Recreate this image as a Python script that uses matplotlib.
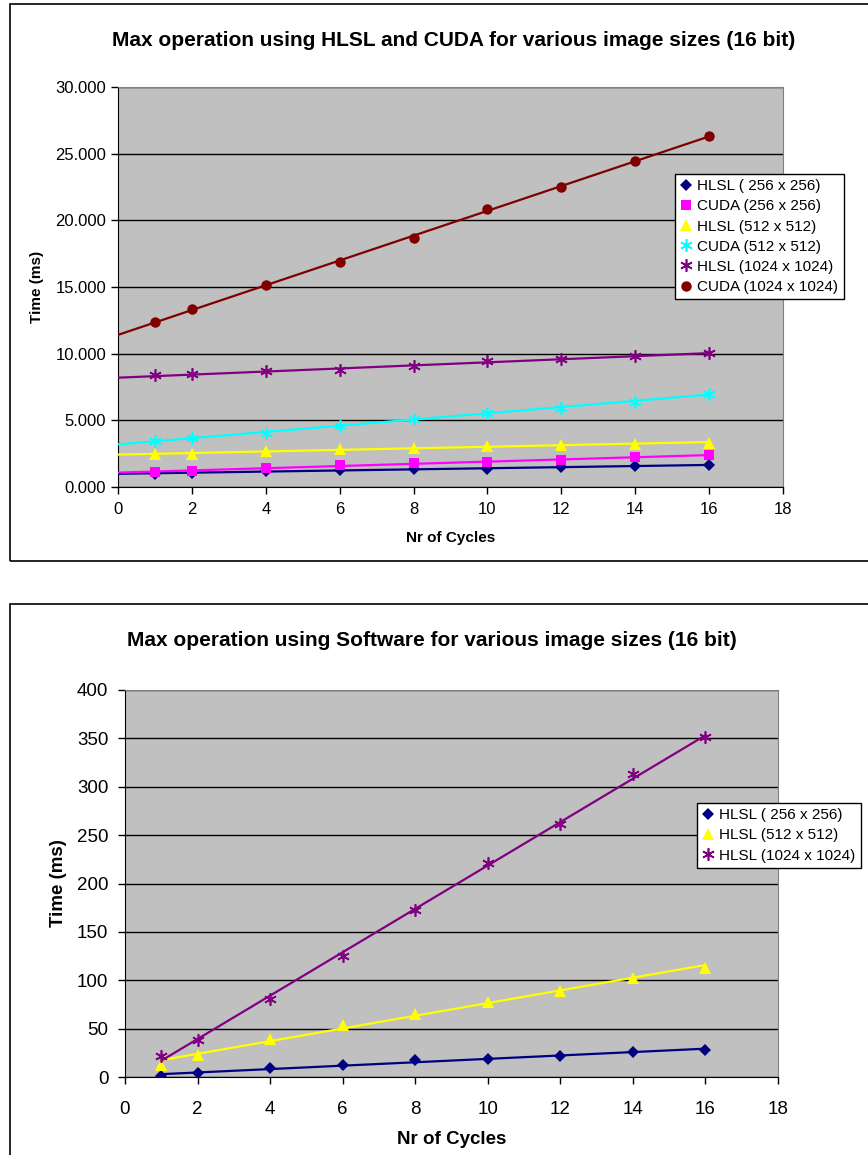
import numpy as np
import matplotlib
matplotlib.use('Agg')
import matplotlib.pyplot as plt
from matplotlib.patches import Rectangle

plt.rcParams['font.family'] = ['Liberation Sans', 'DejaVu Sans']

# top chart: HLSL vs CUDA
cycles_top = [1, 2, 4, 6, 8, 10, 12, 14, 16]
hlsl_256 = [1.00, 1.05, 1.18, 1.30, 1.33, 1.38, 1.50, 1.58, 1.63]
cuda_256 = [1.13, 1.20, 1.43, 1.63, 1.80, 1.90, 2.00, 2.25, 2.38]
hlsl_512 = [2.45, 2.50, 2.68, 2.83, 2.93, 3.08, 3.15, 3.25, 3.30]
cuda_512 = [3.45, 3.68, 4.08, 4.55, 5.13, 5.58, 5.95, 6.38, 7.00]
hlsl_1024 = [8.38, 8.45, 8.68, 8.75, 9.05, 9.43, 9.58, 9.80, 10.08]
cuda_1024 = [12.38, 13.35, 15.12, 16.90, 18.70, 20.85, 22.47, 24.47, 26.35]

# bottom chart: software
cycles_bot = [1, 2, 4, 6, 8, 10, 12, 14, 16]
sw_256 = [1.5, 4.0, 9.3, 12.0, 17.5, 18.7, 21.4, 26.0, 28.4]
sw_512 = [12.7, 23.0, 39.7, 53.5, 65.0, 78.0, 88.8, 102.6, 113.0]
sw_1024 = [21.4, 38.7, 81.0, 125.5, 173.0, 221.0, 262.0, 313.0, 351.0]

top_labels = ['HLSL ( 256 x 256)', 'CUDA (256 x 256)', 'HLSL (512 x 512)',
              'CUDA (512 x 512)', 'HLSL (1024 x 1024)', 'CUDA (1024 x 1024)']
bot_labels = ['HLSL ( 256 x 256)', 'HLSL (512 x 512)', 'HLSL (1024 x 1024)']

star = (6, 2, 0)
styles = {
    'navy': dict(color='#000080', marker='D', ms=6),
    'mag': dict(color='#FF00FF', marker='s', ms=7),
    'yel': dict(color='#FFFF00', marker='^', ms=8),
    'cyan': dict(color='#00FFFF', marker=star, ms=9),
    'purp': dict(color='#800080', marker=star, ms=9),
    'red': dict(color='#800000', marker='o', ms=7.5),
}


def draw_series(ax, x, y, st, label, x0):
    x = np.array(x, float)
    y = np.array(y, float)
    k, b = np.polyfit(x, y, 1)
    xs = np.array([x0, x.max()])
    ax.plot(xs, k * xs + b, color=st['color'], lw=1.6, zorder=3)
    mew = 1.2 if st['marker'] == star else 0
    ax.plot(x, y, linestyle='none', marker=st['marker'], ms=st['ms'],
            color=st['color'], mec=st['color'], mew=mew, label=label, zorder=4)


def style_axes(ax, fs):
    ax.set_facecolor('#C0C0C0')
    ax.grid(axis='y', color='black', lw=1)
    ax.set_axisbelow(True)
    for s in ['top', 'right']:
        ax.spines[s].set_color('#808080')
    for s in ['left', 'bottom']:
        ax.spines[s].set_color('black')
    ax.tick_params(direction='out', length=5, labelsize=fs, width=1)


def add_legend(ax, anchor):
    leg = ax.legend(loc='upper left', bbox_to_anchor=anchor,
                    borderaxespad=0, fancybox=False, edgecolor='black', framealpha=1,
                    fontsize=11, handlelength=0.8, handletextpad=0.3,
                    labelspacing=0.4, borderpad=0.35)
    leg.get_frame().set_linewidth(1)


fig = plt.figure(figsize=(8.68, 11.55), dpi=100)

# frames
fig.patches.append(Rectangle((10 / 868, 1 - 561 / 1155), 1.0, 557 / 1155,
                             transform=fig.transFigure, fill=False,
                             edgecolor='black', lw=1.2))
fig.patches.append(Rectangle((10 / 868, -0.1), 1.0, 0.1 + 551 / 1155,
                             transform=fig.transFigure, fill=False,
                             edgecolor='black', lw=1.2))

# ---- top chart
ax1 = fig.add_axes([118 / 868, 1 - 487 / 1155, 665 / 868, 400 / 1155])
style_axes(ax1, 12)
ax1.tick_params(axis='x', pad=6)
series_top = [hlsl_256, cuda_256, hlsl_512, cuda_512, hlsl_1024, cuda_1024]
keys_top = ['navy', 'mag', 'yel', 'cyan', 'purp', 'red']
for ys, key, lab in zip(series_top, keys_top, top_labels):
    draw_series(ax1, cycles_top, ys, styles[key], lab, 0)
ax1.set_xlim(0, 18)
ax1.set_ylim(0, 30)
ax1.set_xticks(range(0, 19, 2))
ax1.set_yticks(range(0, 31, 5))
ax1.set_yticklabels(['%.3f' % v for v in range(0, 31, 5)])
ax1.set_xlabel('Nr of Cycles', fontsize=11, fontweight='bold', labelpad=10)
ax1.set_ylabel('Time (ms)', fontsize=11, fontweight='bold', labelpad=8)
fig.text(454 / 868, 1 - 40 / 1155,
         'Max operation using HLSL and CUDA for various image sizes (16 bit)',
         ha='center', va='center', fontsize=15, fontweight='bold')
add_legend(ax1, ((675 - 118) / 665, (487 - 174) / 400))

# ---- bottom chart
ax2 = fig.add_axes([125 / 868, 1 - 1077 / 1155, 653 / 868, 387 / 1155])
style_axes(ax2, 13.5)
ax2.tick_params(axis='x', pad=12)
ax2.tick_params(axis='y', pad=7)
series_bot = [sw_256, sw_512, sw_1024]
keys_bot = ['navy', 'yel', 'purp']
for ys, key, lab in zip(series_bot, keys_bot, bot_labels):
    draw_series(ax2, cycles_bot, ys, styles[key], lab, 1)
ax2.set_xlim(0, 18)
ax2.set_ylim(0, 400)
ax2.set_xticks(range(0, 19, 2))
ax2.set_yticks(range(0, 401, 50))
ax2.set_xlabel('Nr of Cycles', fontsize=13.5, fontweight='bold', labelpad=10)
ax2.set_ylabel('Time (ms)', fontsize=13.5, fontweight='bold', labelpad=7)
fig.text(432 / 868, 1 - 641 / 1155,
         'Max operation using Software for various image sizes (16 bit)',
         ha='center', va='center', fontsize=15, fontweight='bold')
add_legend(ax2, ((697 - 125) / 653, (1077 - 803) / 387))

fig.savefig('out.png', dpi=100)
